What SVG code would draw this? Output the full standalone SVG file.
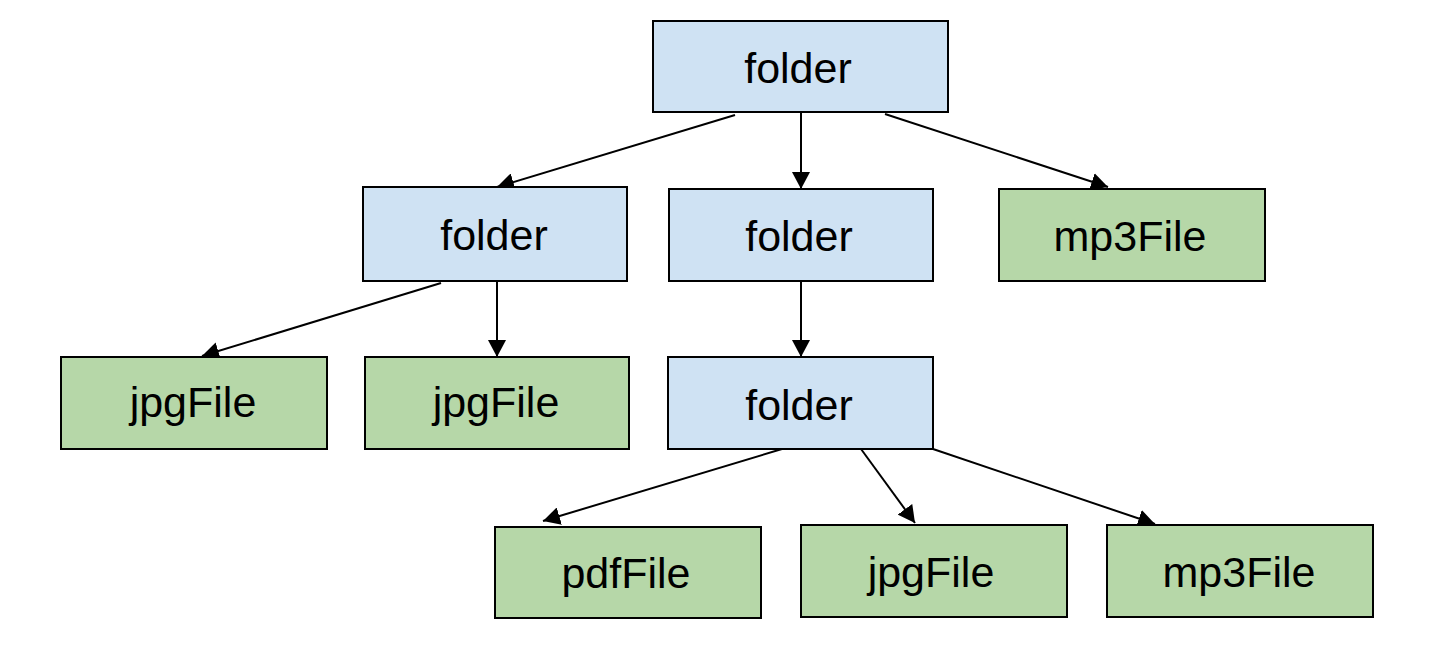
<svg xmlns="http://www.w3.org/2000/svg" width="1456" height="666" viewBox="0 0 1456 666">
<style>
.folder{fill:#cfe2f3;stroke:#000;stroke-width:2}
.file{fill:#b6d7a8;stroke:#000;stroke-width:2}
text{font-family:"Liberation Sans",Arial,sans-serif;font-size:43px;fill:#000;text-anchor:middle}
.edge{stroke:#000;stroke-width:2;fill:none;marker-end:url(#arr)}
</style>
<defs>
<marker id="arr" markerUnits="userSpaceOnUse" markerWidth="18" markerHeight="18" refX="17" refY="9" orient="auto">
<path d="M0,0 L17,9 L0,18 z" fill="#000"/>
</marker>
</defs>
<rect width="1456" height="666" fill="#fff"/>
<g id="connectors">
<line class="edge" x1="735" y1="115" x2="497" y2="187"/>
<line class="edge" x1="801" y1="112" x2="801" y2="189"/>
<line class="edge" x1="885" y1="114" x2="1108" y2="187"/>
<line class="edge" x1="441" y1="283" x2="202" y2="356"/>
<line class="edge" x1="497" y1="281" x2="497" y2="357"/>
<line class="edge" x1="801" y1="281" x2="801" y2="357"/>
<line class="edge" x1="782" y1="449" x2="543" y2="521"/>
<line class="edge" x1="861" y1="449" x2="915" y2="523"/>
<line class="edge" x1="933" y1="449" x2="1155" y2="524"/>
</g>
<g id="folder-root">
<rect class="folder" x="653" y="21" width="295" height="91"/>
<text x="798" y="83">folder</text>
</g>
<g id="folder-a">
<rect class="folder" x="363" y="187" width="264" height="94"/>
<text x="494" y="250">folder</text>
</g>
<g id="folder-b">
<rect class="folder" x="669" y="189" width="264" height="92"/>
<text x="799" y="251">folder</text>
</g>
<g id="mp3File-1">
<rect class="file" x="999" y="189" width="266" height="92"/>
<text x="1130" y="251">mp3File</text>
</g>
<g id="jpgFile-1">
<rect class="file" x="61" y="357" width="266" height="92"/>
<text x="193" y="417">jpgFile</text>
</g>
<g id="jpgFile-2">
<rect class="file" x="365" y="357" width="264" height="92"/>
<text x="496" y="417">jpgFile</text>
</g>
<g id="folder-c">
<rect class="folder" x="668" y="357" width="265" height="92"/>
<text x="799" y="420">folder</text>
</g>
<g id="pdfFile">
<rect class="file" x="495" y="527" width="266" height="91"/>
<text x="626" y="588">pdfFile</text>
</g>
<g id="jpgFile-3">
<rect class="file" x="801" y="525" width="266" height="92"/>
<text x="931" y="587">jpgFile</text>
</g>
<g id="mp3File-2">
<rect class="file" x="1107" y="525" width="266" height="92"/>
<text x="1239" y="587">mp3File</text>
</g>
</svg>
